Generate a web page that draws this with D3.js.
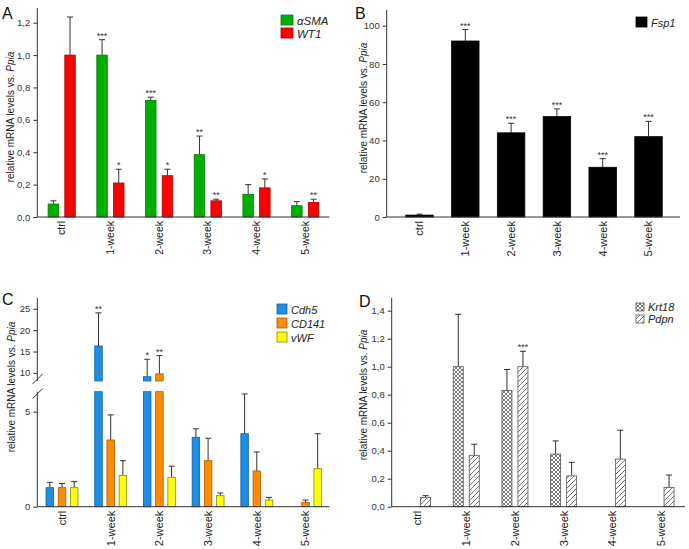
<!DOCTYPE html>
<html><head><meta charset="utf-8">
<script src="https://cdn.jsdelivr.net/npm/d3@7"></script>
<style>body{margin:0;background:#fff}svg{font-family:"Liberation Sans",Arial,sans-serif}</style>
</head><body>
<svg id="c" width="689" height="549"></svg>
<script>
const categories = ["ctrl","1-week","2-week","3-week","4-week","5-week"];
// Panel A
const aSMA = [0.08,1.0,0.72,0.385,0.14,0.07];
const aSMAErr = [0.02,0.095,0.02,0.115,0.06,0.025];
const aSMAStars = ["","***","***","**","",""];
const WT1 = [1.0,0.21,0.255,0.10,0.18,0.09];
const WT1Err = [0.235,0.085,0.04,0.01,0.055,0.02];
const WT1Stars = ["","*","*","**","*","**"];
const ticksA = [0,0.2,0.4,0.6,0.8,1.0,1.2];
// Panel B
const Fsp1 = [1,92,44,52.5,26,42];
const Fsp1Err = [0.5,6,5,4,4.5,8];
const Fsp1Stars = ["","***","***","***","***","***"];
const ticksB = [0,20,40,60,80,100];
// Panel C
const Cdh5 = [1.0,16.3,9.1,3.65,3.84,0];
const Cdh5Err = [0.28,7.75,4.1,0.45,2.09,0];
const Cdh5Stars = ["","**","*","","",""];
const CD141 = [1.0,3.51,9.77,2.42,1.88,0.23];
const CD141Err = [0.22,1.32,4.28,1.18,1.0,0.12];
const CD141Stars = ["","","**","","",""];
const vWF = [1.0,1.65,1.55,0.58,0.35,2.0];
const vWFErr = [0.32,0.77,0.58,0.14,0.14,1.84];
const vWFStars = ["","","","","",""];
const ticksCLow = [0,5];
const ticksCHigh = [10,15,20,25];
// Panel D
const Krt18 = [0,1.0,0.83,0.376,0,0];
const Krt18Err = [0,0.374,0.15,0.094,0,0];
const Krt18Stars = ["","","","","",""];
const Pdpn = [0.067,0.367,1.0,0.22,0.34,0.138];
const Pdpn2Err = [0.012,0.079,0.11,0.097,0.206,0.088];
const PdpnStars = ["","","***","","",""];
const ticksD = [0,0.2,0.4,0.6,0.8,1.0,1.2,1.4];

const svg = d3.select("#c");
const defs = svg.append("defs");
const pc = defs.append("pattern").attr("id","cross").attr("patternUnits","userSpaceOnUse").attr("width",4).attr("height",4);
pc.append("rect").attr("width",4).attr("height",4).attr("fill","#fff");
pc.append("path").attr("d","M0,0L4,4M4,0L0,4").attr("stroke","#555").attr("stroke-width",0.8);
const pd = defs.append("pattern").attr("id","diag").attr("patternUnits","userSpaceOnUse").attr("width",5).attr("height",5);
pd.append("rect").attr("width",5).attr("height",5).attr("fill","#fff");
pd.append("path").attr("d","M-1,6L6,-1M-1,1L1,-1M4,6L6,4").attr("stroke","#555").attr("stroke-width",0.8);

const fmtComma = d => d3.format(".1f")(d).replace(".", ",");
const AX = "#333";

function yAxis(g, scale, ticks, fmt, x){
  const ax = g.append("g").attr("transform",`translate(${x},0)`)
    .call(d3.axisLeft(scale).tickValues(ticks).tickFormat(fmt).tickSize(4).tickPadding(3));
  ax.select(".domain").remove();
  ax.selectAll("line").attr("stroke",AX);
  ax.selectAll("text").attr("font-size",9.5).attr("fill","#333");
  return ax;
}
function xLabels(g, x0, y, fs){
  g.selectAll(null).data(categories).enter().append("text")
    .attr("transform",d=>`translate(${x0(d)+x0.bandwidth()/2+fs*0.35},${y+4}) rotate(-90)`)
    .attr("text-anchor","end").attr("font-size",fs).attr("fill","#222").text(d=>d);
}
function yLabel(g, x, y){
  const t = g.append("text").attr("transform",`translate(${x},${y}) rotate(-90)`)
    .attr("text-anchor","middle").attr("font-size",10).attr("fill","#222");
  t.append("tspan").text("relative mRNA levels vs. ");
  t.append("tspan").attr("font-style","italic").text("Ppia");
}
function bars(g, x0, x1, key, vals, errs, stars, yScale, fill, stroke){
  const gg = g.append("g");
  categories.forEach((c,i)=>{
    const v = vals[i]; if(v<=0) return;
    const xl = x0(c)+x1(key), w = x1.bandwidth();
    const top = yScale(v), bot = yScale(0);
    const ye = yScale(v+errs[i]);
    gg.append("line").attr("x1",xl+w/2).attr("x2",xl+w/2).attr("y1",top).attr("y2",ye).attr("stroke","#333").attr("stroke-width",1);
    gg.append("line").attr("x1",xl+w/2-3).attr("x2",xl+w/2+3).attr("y1",ye).attr("y2",ye).attr("stroke","#333").attr("stroke-width",1);
    gg.append("rect").attr("x",xl).attr("y",top).attr("width",w).attr("height",bot-top)
      .attr("fill",fill).attr("stroke",stroke).attr("stroke-width",0.8);
    if(stars[i]) gg.append("text").attr("x",xl+w/2).attr("y",ye-1).attr("text-anchor","middle")
      .attr("font-size",9).attr("fill","#333").text(stars[i]);
  });
}
function legend(g, items, x, y0, dy, sw, sh, fs){
  items.forEach((it,i)=>{
    const y = y0 + i*dy;
    g.append("rect").attr("x",x).attr("y",y).attr("width",sw).attr("height",sh).attr("fill",it.fill).attr("stroke",it.stroke).attr("stroke-width",0.8);
    g.append("text").attr("x",x+sw+4).attr("y",y+sh).attr("font-size",fs).attr("font-style","italic").attr("fill","#222").text(it.name);
  });
}
function label(t,x,y){ svg.append("text").attr("x",x).attr("y",y).attr("font-size",16).attr("fill","#111").text(t); }

// ---------- Panel A ----------
{
  const g = svg.append("g");
  const y = d3.scaleLinear().domain([0,1.2]).range([217,22.7]);
  const x0 = d3.scaleBand().domain(categories).range([37.3,329.5]);
  const x1 = d3.scaleBand().domain(["aSMA","WT1"]).range([10.8,38]).paddingInner(0.37);
  bars(g,x0,x1,"aSMA",aSMA,aSMAErr,aSMAStars,y,"#00b000","#0a7a0a");
  bars(g,x0,x1,"WT1",WT1,WT1Err,WT1Stars,y,"#ff0000","#b00000");
  yAxis(g,y,ticksA,fmtComma,37.3);
  g.append("line").attr("x1",37.3).attr("x2",37.3).attr("y1",8).attr("y2",217).attr("stroke",AX);
  g.append("line").attr("x1",37.3).attr("x2",329.5).attr("y1",217).attr("y2",217).attr("stroke",AX);
  xLabels(g,x0,217,10.5);
  yLabel(g,14,117);
  legend(g,[{name:"\u03b1SMA",fill:"#00b000",stroke:"#0a7a0a"},{name:"WT1",fill:"#ff0000",stroke:"#b00000"}],281,15,13,12,10,11.5);
  label("A",2,19);
}
// ---------- Panel B ----------
{
  const g = svg.append("g");
  const y = d3.scaleLinear().domain([0,100]).range([217,25.7]);
  const x0 = d3.scaleBand().domain(categories).range([396.6,671.4]);
  const x1 = d3.scaleBand().domain(["Fsp1"]).range([0,x0.bandwidth()]).paddingInner(0.4).paddingOuter(0.2);
  bars(g,x0,x1,"Fsp1",Fsp1,Fsp1Err,Fsp1Stars,y,"#000","#000");
  yAxis(g,y,ticksB,d=>d,386.7);
  g.append("line").attr("x1",386.7).attr("x2",386.7).attr("y1",10).attr("y2",217).attr("stroke",AX);
  g.append("line").attr("x1",386.7).attr("x2",680).attr("y1",217).attr("y2",217).attr("stroke",AX);
  xLabels(g,x0,217,11);
  yLabel(g,367,108);
  legend(g,[{name:"Fsp1",fill:"#000",stroke:"#000"}],636,17,13,11,10,11);
  label("B",355,19);
}
// ---------- Panel C ----------
{
  const g = svg.append("g");
  const yLow = d3.scaleLinear().domain([0,6.05]).range([506.7,391.7]);
  const yHigh = d3.scaleLinear().domain([8.1,27.6]).range([381,297.7]);
  const LOWMAX = 6.05, HIGHMIN = 8.1;
  const x0 = d3.scaleBand().domain(categories).range([37.65,329.85]);
  const x1 = d3.scaleBand().domain(["Cdh5","CD141","vWF"]).range([8.4,40.3]).paddingInner(0.385);
  const series = [
    {key:"Cdh5",v:Cdh5,e:Cdh5Err,s:Cdh5Stars,fill:"#1e8fe6",stroke:"#135f9e"},
    {key:"CD141",v:CD141,e:CD141Err,s:CD141Stars,fill:"#ff8c00",stroke:"#a85a00"},
    {key:"vWF",v:vWF,e:vWFErr,s:vWFStars,fill:"#ffff00",stroke:"#8a8a00"}];
  const yAny = v => v<=LOWMAX ? yLow(v) : yHigh(Math.max(v,HIGHMIN));
  series.forEach(sr=>{
    const gg = g.append("g");
    categories.forEach((c,i)=>{
      const v = sr.v[i]; if(v<=0) return;
      const xl = x0(c)+x1(sr.key), w = x1.bandwidth();
      const ye = yAny(v+sr.e[i]);
      const top = yAny(v);
      gg.append("line").attr("x1",xl+w/2).attr("x2",xl+w/2).attr("y1",top).attr("y2",ye).attr("stroke","#333");
      gg.append("line").attr("x1",xl+w/2-3).attr("x2",xl+w/2+3).attr("y1",ye).attr("y2",ye).attr("stroke","#333");
      const lt = yLow(Math.min(v,LOWMAX));
      gg.append("rect").attr("x",xl).attr("y",lt).attr("width",w).attr("height",yLow(0)-lt)
        .attr("fill",sr.fill).attr("stroke",sr.stroke).attr("stroke-width",0.8);
      if(v>HIGHMIN){
        const ht = yHigh(v);
        gg.append("rect").attr("x",xl).attr("y",ht).attr("width",w).attr("height",yHigh(HIGHMIN)-ht)
          .attr("fill",sr.fill).attr("stroke",sr.stroke).attr("stroke-width",0.8);
      }
      if(sr.s[i]) gg.append("text").attr("x",xl+w/2).attr("y",ye-1).attr("text-anchor","middle")
        .attr("font-size",9).attr("fill","#333").text(sr.s[i]);
    });
  });
  yAxis(g,yLow,ticksCLow,d=>d,37.3);
  yAxis(g,yHigh,ticksCHigh,d=>d,37.3);
  g.append("line").attr("x1",37.3).attr("x2",37.3).attr("y1",297.7).attr("y2",yHigh(HIGHMIN)).attr("stroke",AX);
  g.append("line").attr("x1",37.3).attr("x2",37.3).attr("y1",yLow(LOWMAX)).attr("y2",506.7).attr("stroke",AX);
  [yHigh(HIGHMIN)-2, yLow(LOWMAX)+2].forEach(yy=>{
    g.append("line").attr("x1",32.5).attr("x2",42.5).attr("y1",yy+5).attr("y2",yy-5).attr("stroke",AX);
  });
  g.append("line").attr("x1",37.3).attr("x2",329.5).attr("y1",506.7).attr("y2",506.7).attr("stroke",AX);
  xLabels(g,x0,506.7,11);
  yLabel(g,15,387);
  legend(g,series.map(s=>({name:s.key,fill:s.fill,stroke:s.stroke})),277,304,14,10,10,11);
  label("C",2,305);
}
// ---------- Panel D ----------
{
  const g = svg.append("g");
  const y = d3.scaleLinear().domain([0,1.4]).range([506.7,310.7]);
  const x0 = d3.scaleBand().domain(categories).range([393.2,685.4]);
  const x1 = d3.scaleBand().domain(["Krt18","Pdpn"]).range([11.35,37.35]).paddingInner(0.375);
  bars(g,x0,x1,"Krt18",Krt18,Krt18Err,Krt18Stars,y,"url(#cross)","#555");
  bars(g,x0,x1,"Pdpn",Pdpn,Pdpn2Err,PdpnStars,y,"url(#diag)","#555");
  yAxis(g,y,ticksD,fmtComma,391.7);
  g.append("line").attr("x1",391.7).attr("x2",391.7).attr("y1",297.7).attr("y2",506.7).attr("stroke",AX);
  g.append("line").attr("x1",391.7).attr("x2",685).attr("y1",506.7).attr("y2",506.7).attr("stroke",AX);
  xLabels(g,x0,506.7,11);
  yLabel(g,367,395);
  legend(g,[{name:"Krt18",fill:"url(#cross)",stroke:"#555"},{name:"Pdpn",fill:"url(#diag)",stroke:"#555"}],636,303,12,8,8,11);
  label("D",359,307);
}
</script>
</body></html>
